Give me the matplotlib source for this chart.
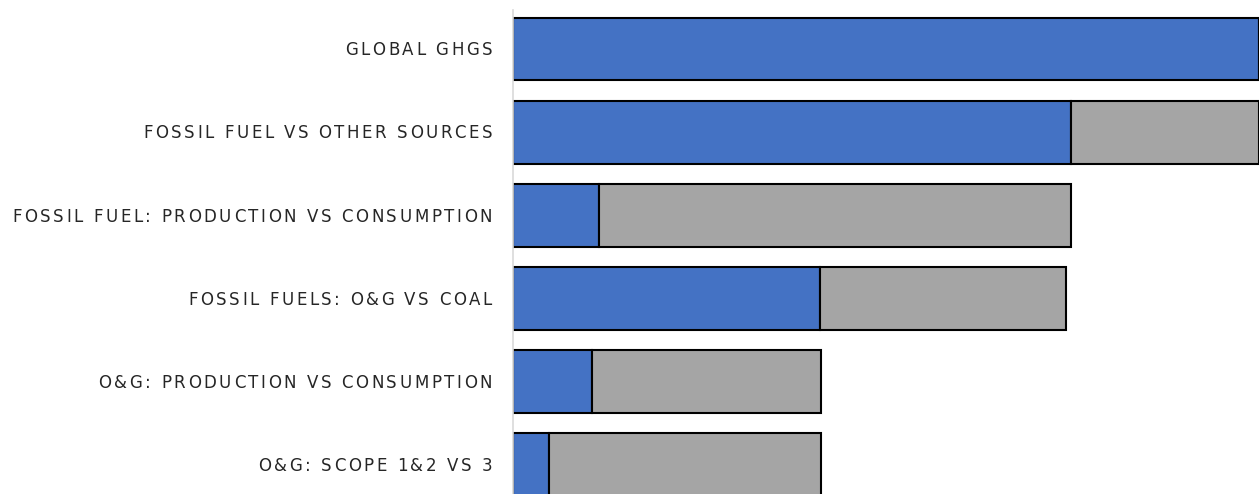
import matplotlib
matplotlib.use("Agg")
import matplotlib.pyplot as plt
import matplotlib.transforms as mtransforms

categories = [
    "GLOBAL GHGS",
    "FOSSIL FUEL VS OTHER SOURCES",
    "FOSSIL FUEL: PRODUCTION VS CONSUMPTION",
    "FOSSIL FUELS: O&G VS COAL",
    "O&G: PRODUCTION VS CONSUMPTION",
    "O&G: SCOPE 1&2 VS 3",
]
first_part = [100.0, 74.8, 11.5, 41.2, 10.6, 4.8]
second_part = [0.0, 25.2, 63.3, 32.9, 30.7, 36.5]

blue = "#4472C4"
grey = "#A5A5A5"

fig = plt.figure(figsize=(12.59, 4.94), dpi=100)
ax = fig.add_axes([513 / 1259, 0.0, 1 - 513 / 1259, 1 - 10 / 494])

y = list(range(len(categories)))
ax.barh(y, first_part, height=0.757, color=blue, edgecolor="black", linewidth=1.5)
ax.barh(y, second_part, left=first_part, height=0.757, color=grey,
        edgecolor="black", linewidth=1.5)

ax.set_xlim(0, 100)
ax.set_ylim(5.35, -0.469)
ax.set_yticks(y)
ax.set_yticklabels([])
ax.tick_params(axis="y", length=0)
ax.set_xticks([])
for side in ["top", "right", "bottom"]:
    ax.spines[side].set_visible(False)
ax.spines["left"].set_color("#D9D9D9")
ax.spines["left"].set_linewidth(1.2)

# letter-spaced category labels (matplotlib has no tracking option)
font = dict(fontsize=12.0, color="#262626", family="DejaVu Sans")
track = 2.57
renderer = fig.canvas.get_renderer()
probe = fig.text(0, 0, "", **font)


def text_width(s):
    probe.set_text(s)
    return probe.get_window_extent(renderer).width


base = text_width("HH")
trans = mtransforms.blended_transform_factory(mtransforms.IdentityTransform(), ax.transData)
right_end = 492
for yi, label in zip(y, categories):
    adv = [text_width("H" + c + "H") - base for c in label]
    total = sum(adv) + track * (len(label) - 1)
    x = right_end - total
    for c, a in zip(label, adv):
        if c != " ":
            ax.text(x, yi + 0.075, c, transform=trans, ha="left", va="baseline", **font)
        x += a + track
probe.remove()

fig.savefig("out.png", dpi=100)
